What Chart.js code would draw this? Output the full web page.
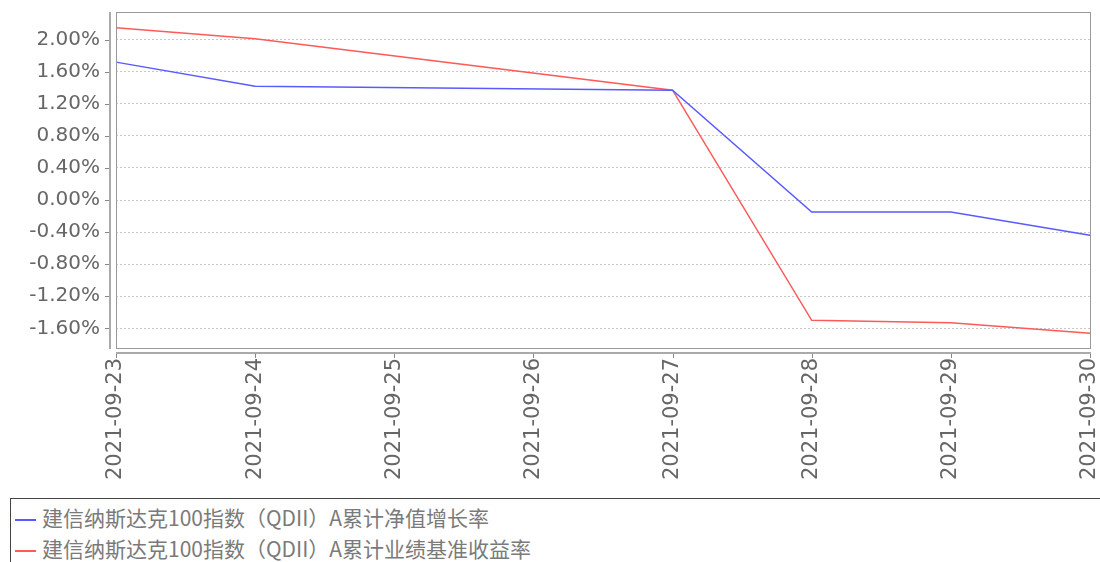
<!DOCTYPE html>
<html>
<head>
<meta charset="utf-8">
<script src="https://cdn.jsdelivr.net/npm/chart.js@4.4.0/dist/chart.umd.min.js"></script>
<style>
body{margin:0;background:#fff;}
#wrap{position:relative;width:1100px;height:562px;overflow:hidden;}
#myChart{position:absolute;left:0;top:0;}
#legend{position:absolute;left:10px;top:498px;width:1100px;height:80px;border:1.5px solid #444;
  font-family:"Noto Sans CJK SC";font-size:21px;color:#7a7a7a;}
#legend div{height:31px;line-height:31px;white-space:nowrap;}
#legend div:first-child{margin-top:3px;}
#legend span{display:inline-block;width:21px;height:2px;vertical-align:middle;margin:0 6px 0 4px;}
</style>
</head>
<body>
<div id="wrap">
<canvas id="myChart" width="1100" height="498"></canvas>
<div id="legend"></div>
</div>
<script>
const dates = ['2021-09-23','2021-09-24','2021-09-25','2021-09-26','2021-09-27','2021-09-28','2021-09-29','2021-09-30']
const navGrowth = [1.72, 1.42, null, null, 1.37, -0.15, -0.15, -0.44]
const benchmark = [2.15, 2.01, null, null, 1.37, -1.50, -1.53, -1.66]
const yTicks = [-1.6, -1.2, -0.8, -0.4, 0, 0.4, 0.8, 1.2, 1.6, 2.0]
const names = ['建信纳斯达克100指数（QDII）A累计净值增长率', '建信纳斯达克100指数（QDII）A累计业绩基准收益率']
const colors = ['#5a5aff', '#ff5a5a']

const tickFont = {family: 'DejaVu Sans', size: 20}

// frame + offset axis lines like the original
const axesPlugin = {
    id: 'axesFrame',
    afterDraw(chart) {
        const c = chart.ctx
        const a = chart.chartArea
        c.save()
        c.strokeStyle = '#999'
        c.lineWidth = 1
        c.strokeRect(Math.round(a.left) + 0.5, Math.round(a.top) + 0.5, Math.round(a.right - a.left), Math.round(a.bottom - a.top))
        c.lineWidth = 2
        c.strokeStyle = '#aaa'
        const ax = Math.round(a.left) - 6
        const ay = Math.round(a.bottom) + 5
        c.beginPath()
        c.moveTo(ax, a.top); c.lineTo(ax, a.bottom + 1)
        c.moveTo(a.left, ay); c.lineTo(a.right + 1, ay)
        c.stroke()
        c.lineWidth = 1
        c.strokeStyle = '#888'
        c.beginPath()
        chart.scales.y.ticks.forEach(t => {
            const py = Math.round(chart.scales.y.getPixelForValue(t.value)) + 0.5
            c.moveTo(ax - 5, py); c.lineTo(ax - 1, py)
        })
        chart.scales.x.ticks.forEach((t, i) => {
            const px = Math.round(chart.scales.x.getPixelForTick(i)) + 0.5
            c.moveTo(px, ay + 1); c.lineTo(px, ay + 5)
        })
        c.stroke()
        c.restore()
    }
}

const ctx = document.getElementById('myChart')
const mychart = new Chart(ctx, {
    type: 'line',
    data: {
        labels: dates,
        datasets: [
            {label: names[0], data: navGrowth, borderColor: colors[0]},
            {label: names[1], data: benchmark, borderColor: colors[1]}
        ]
    },
    options: {
        responsive: false,
        animation: false,
        spanGaps: true,
        layout: {padding: {top: 12, right: 10, left: 0, bottom: 0}},
        elements: {
            line: {tension: 0, borderWidth: 1.5},
            point: {radius: 0}
        },
        plugins: {
            legend: {display: false},
            tooltip: {enabled: false}
        },
        scales: {
            x: {
                offset: false,
                grid: {display: false, drawTicks: false},
                border: {display: false},
                ticks: {
                    font: {family: 'DejaVu Sans', size: 21}, color: '#666',
                    minRotation: 90, maxRotation: 90,
                    autoSkip: false, padding: 10
                },
                afterFit(s) {
                    s.height = 150
                    s.paddingLeft = 0; s.paddingRight = 0
                }
            },
            y: {
                min: -1.845,
                max: 2.345,
                grid: {color: '#c8c8c8', drawTicks: false},
                border: {display: false, dash: [2, 2]},
                ticks: {
                    font: tickFont, color: '#666', padding: 16,
                    callback: v => v.toFixed(2) + '%'
                },
                afterBuildTicks(s) { s.ticks = yTicks.map(v => ({value: v})) },
                afterFit(s) {
                    s.width = 116
                    s.paddingTop = 0; s.paddingBottom = 0
                }
            }
        }
    },
    plugins: [axesPlugin]
})

const lg = document.getElementById('legend')
names.forEach((n, i) => {
    const row = document.createElement('div')
    const sw = document.createElement('span')
    sw.style.background = colors[i]
    row.appendChild(sw)
    row.appendChild(document.createTextNode(n))
    lg.appendChild(row)
})
</script>
</body>
</html>
